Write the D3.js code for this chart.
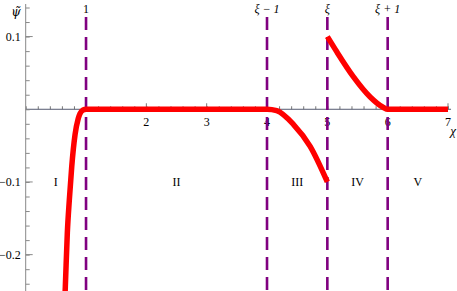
<!DOCTYPE html>
<html>
<head>
<meta charset="utf-8">
<script src="https://cdn.jsdelivr.net/npm/d3@7"></script>
<style>
  body { margin: 0; background: #fff; }
  svg text { font-family: "Liberation Serif", "Times New Roman", "DejaVu Serif", serif; }
</style>
</head>
<body>
<script>
// curve: left branch + flat + region III drop
let leftX = [0.64, 0.657, 0.69, 0.723, 0.763, 0.818, 0.87, 0.9, 0.95, 1, 2, 3, 4, 4.16, 4.44, 4.715, 5];
let leftY = [-0.28, -0.244, -0.17, -0.125, -0.079, -0.035, -0.013, -0.006, -0.001, 0, 0, 0, 0, -0.002, -0.021, -0.051, -0.1];
// region IV decay + flat tail
let rightX = [5, 5.157, 5.43, 5.71, 5.93, 6, 7];
let rightY = [0.1, 0.079, 0.045, 0.017, 0.0025, 0, 0];

let xTicks = [2, 3, 4, 5, 6, 7];
let yTicks = [0.1, -0.1, -0.2];
let markerX = [1, 4, 5, 6];
let markerLabels = ["1", "ξ − 1", "ξ", "ξ + 1"];
let regionX = [0.5, 2.5, 4.5, 5.5, 6.5];
let regionNames = ["I", "II", "III", "IV", "V"];

let width = 457, height = 291;

let svg = d3.select("body").append("svg")
    .attr("width", width)
    .attr("height", height)

let x = d3.scaleLinear().domain([0, 7]).range([25.7, 448]);
let y = d3.scaleLinear().domain([-0.25, 0.14]).range([291, 7.5]);

// x axis, ticks pointing up
let xAxis = svg.append("g").attr("transform", `translate(0,${y(0)})`)
    .call(d3.axisTop(x).tickValues(d3.range(0, 7.01, 0.2)).tickSize(3).tickFormat(""))
xAxis.select(".domain").remove();
xAxis.selectAll("line").attr("stroke", "#777");
xAxis.append("line").attr("x1", x(0)).attr("x2", x(7.05)).attr("stroke", "#555a70").attr("stroke-width", 1);
xAxis.selectAll(".major").data(d3.range(1, 8)).enter().append("line")
    .attr("x1", d => x(d)).attr("x2", d => x(d))
    .attr("y1", 0).attr("y2", -6).attr("stroke", "#777")

svg.selectAll(".xlab").data(xTicks).enter().append("text")
    .attr("x", d => x(d)).attr("y", y(0) + 17)
    .attr("text-anchor", "middle").attr("font-size", 12)
    .text(d => d)

svg.append("text").attr("x", 453).attr("y", y(0) + 26)
    .attr("font-size", 13).attr("font-style", "italic").attr("text-anchor", "middle")
    .text("χ")

// y axis, ticks pointing right
let yAxis = svg.append("g").attr("transform", `translate(${x(0)},0)`)
    .call(d3.axisRight(y).tickValues(d3.range(-0.24, 0.141, 0.02)).tickSize(4).tickFormat(""))
yAxis.select(".domain").remove();
yAxis.selectAll("line").attr("stroke", "#888");
yAxis.append("line").attr("y1", 4).attr("y2", height).attr("stroke", "#888");
yAxis.selectAll(".major").data([0.1, -0.1, -0.2]).enter().append("line")
    .attr("y1", d => y(d)).attr("y2", d => y(d))
    .attr("x1", 0).attr("x2", 7).attr("stroke", "#888")

svg.selectAll(".ylab").data(yTicks).enter().append("text")
    .attr("x", x(0) - 5).attr("y", d => y(d) + 4)
    .attr("text-anchor", "end").attr("font-size", 12)
    .text(d => d3.format(".1f")(d).replace("-", "−"))

svg.append("text").attr("x", 16).attr("y", 16)
    .attr("font-size", 12).attr("font-style", "italic").attr("text-anchor", "middle")
    .style("font-family", "'DejaVu Serif', serif")
    .text("ψ̃")

// purple dashed markers
svg.selectAll(".marker").data(markerX).enter().append("line")
    .attr("x1", d => x(d)).attr("x2", d => x(d))
    .attr("y1", 17).attr("y2", height)
    .attr("stroke", "#800080").attr("stroke-width", 2.6)
    .attr("stroke-dasharray", "13,7")

svg.selectAll(".mlab").data(markerX).enter().append("text")
    .attr("x", d => x(d)).attr("y", 13)
    .attr("text-anchor", "middle").attr("font-size", 12)
    .text((d, i) => markerLabels[i])
    .style("font-style", (d, i) => i == 0 ? "normal" : "italic")

svg.selectAll(".rlab").data(regionX).enter().append("text")
    .attr("x", d => x(d)).attr("y", 186)
    .attr("text-anchor", "middle").attr("font-size", 12)
    .text((d, i) => regionNames[i])

let line = d3.line().curve(d3.curveMonotoneX)
    .x(d => x(d[0])).y(d => y(d[1]));

svg.append("path")
    .datum(leftX.map((d, i) => [d, leftY[i]]))
    .attr("d", line)
    .attr("fill", "none").attr("stroke", "#ff0000").attr("stroke-width", 5.5)

svg.append("path")
    .datum(rightX.map((d, i) => [d, rightY[i]]))
    .attr("d", line)
    .attr("fill", "none").attr("stroke", "#ff0000").attr("stroke-width", 5.5)
</script>
</body>
</html>
